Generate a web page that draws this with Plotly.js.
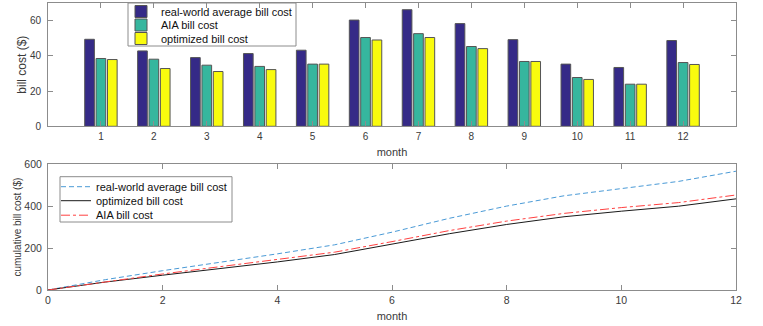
<!DOCTYPE html>
<html>
<head>
<meta charset="utf-8">
<script src="https://cdn.plot.ly/plotly-3.0.1.min.js"></script>
<style>html,body{margin:0;padding:0;background:#fff;}#chart{width:763px;height:326px;}</style>
</head>
<body>
<div id="chart"></div>
<script>
// ---- data ----
var months = [1, 2, 3, 4, 5, 6, 7, 8, 9, 10, 11, 12];
var realWorldBill = [49.4, 42.8, 39.0, 41.3, 43.2, 60.3, 66.2, 58.3, 49.2, 35.3, 33.4, 48.7];
var aiaBill       = [38.5, 38.1, 34.7, 34.0, 35.3, 50.4, 52.6, 45.3, 36.8, 27.7, 23.9, 36.2];
var optimizedBill = [37.9, 32.8, 31.1, 32.2, 35.3, 49.0, 50.4, 44.1, 36.8, 26.6, 23.9, 35.1];

var cumMonths = [0, 1, 2, 3, 4, 5, 6, 7, 8, 9, 10, 11, 12];
var cumRealWorld = [0, 49.4, 92.2, 131.2, 172.5, 215.7, 276.0, 342.2, 400.5, 449.7, 485.0, 518.4, 567.1];
var cumOptimized = [0, 37.9, 70.7, 101.8, 134.0, 169.3, 218.3, 268.7, 312.8, 349.6, 376.2, 400.1, 435.2];
var cumAIA       = [0, 38.5, 76.6, 111.3, 145.3, 180.6, 231.0, 283.6, 328.9, 365.7, 393.4, 417.3, 453.5];

var barTickLabels = ['1','2','3','4','5','6','7','8','9','10','11','12'];

// ---- styling ----
var FONT = 'Liberation Sans, Arial, Helvetica, sans-serif';
var TXT = '#3a3a3a';
var AX = '#8c8c8c';
var edge = {color: '#555555', width: 1};

var traces = [
  {type: 'bar', x: months, y: realWorldBill, name: 'real-world average bill cost',
   marker: {color: '#352a87', line: edge}, xaxis: 'x', yaxis: 'y', legend: 'legend'},
  {type: 'bar', x: months, y: aiaBill, name: 'AIA bill cost',
   marker: {color: '#36b69e', line: edge}, xaxis: 'x', yaxis: 'y', legend: 'legend2'},
  {type: 'bar', x: months, y: optimizedBill, name: 'optimized bill cost',
   marker: {color: '#f9fb0e', line: edge}, xaxis: 'x', yaxis: 'y', legend: 'legend3'},
  {type: 'scatter', mode: 'lines', x: cumMonths, y: cumRealWorld, name: 'real-world average bill cost',
   line: {color: '#4a9ad6', width: 1, dash: '5px,3px'}, xaxis: 'x2', yaxis: 'y2', legend: 'legend4'},
  {type: 'scatter', mode: 'lines', x: cumMonths, y: cumOptimized, name: 'optimized bill cost',
   line: {color: '#1a1a1a', width: 1}, xaxis: 'x2', yaxis: 'y2', legend: 'legend5'},
  {type: 'scatter', mode: 'lines', x: cumMonths, y: cumAIA, name: 'AIA bill cost',
   line: {color: '#ff4040', width: 1, dash: 'dashdot'}, xaxis: 'x2', yaxis: 'y2', legend: 'legend6'}
];

function axisBase(fs) {
  return {
    showline: true, linecolor: AX, linewidth: 1, mirror: 'ticks',
    ticks: 'inside', ticklen: 5, tickcolor: AX, tickwidth: 1,
    showgrid: false, zeroline: false, automargin: false,
    tickfont: {family: FONT, size: fs, color: TXT}
  };
}

// plot area: left 48, right 736, top 3, bottom 290 (height 287)
var H = 287, PB = 290;
function py(p) { return (PB - p) / H; }
function px(p) { return (p - 48) / 688; }

function legendAt(pxX, pxY) {
  return {
    x: px(pxX), y: py(pxY), xanchor: 'left', yanchor: 'middle',
    xref: 'paper', yref: 'paper',
    bgcolor: 'rgba(0,0,0,0)', borderwidth: 0,
    font: {family: FONT, size: 11, color: '#111111'},
    itemwidth: 30, itemclick: false, itemdoubleclick: false
  };
}

var layout = {
  width: 763, height: 326,
  margin: {l: 48, r: 27, t: 3, b: 36, autoexpand: false},
  paper_bgcolor: '#ffffff', plot_bgcolor: '#ffffff',
  showlegend: true,
  barmode: 'group', bargap: 0.355, bargroupgap: 0.15,
  font: {family: FONT, size: 11, color: TXT},
  xaxis: Object.assign(axisBase(10), {
    domain: [0, 1], anchor: 'y', range: [0, 13], ticklabelstandoff: 1,
    tickmode: 'array', tickvals: months, ticktext: barTickLabels,
    title: {text: 'month', font: {family: FONT, size: 11, color: TXT}, standoff: 7}
  }),
  yaxis: Object.assign(axisBase(10), {
    domain: [py(126.3), 1], anchor: 'x', range: [0, 70], tickvals: [0, 20, 40, 60],
    ticklabelstandoff: 4,
    title: {text: 'bill cost ($)', font: {family: FONT, size: 12, color: TXT}, standoff: 0}
  }),
  xaxis2: Object.assign(axisBase(10.5), {
    domain: [0, 1], anchor: 'y2', range: [0, 12], tickvals: [0, 2, 4, 6, 8, 10, 12],
    title: {text: 'month', font: {family: FONT, size: 11, color: TXT}, standoff: 7}
  }),
  yaxis2: Object.assign(axisBase(10.5), {
    domain: [0, py(164.3)], anchor: 'x2', range: [0, 600], tickvals: [0, 200, 400, 600],
    ticklabelstandoff: 3,
    title: {text: 'cumulative bill cost ($)', font: {family: FONT, size: 10, color: TXT}, standoff: 0}
  }),
  legend:  legendAt(121, 11.5),
  legend2: legendAt(121, 25),
  legend3: legendAt(121, 38.5),
  legend4: legendAt(56, 186.7),
  legend5: legendAt(56, 200.7),
  legend6: legendAt(56, 215.2),
  shapes: [
    {type: 'rect', xref: 'paper', yref: 'paper', layer: 'below',
     x0: px(128), x1: px(296), y0: py(46), y1: py(3),
     line: {color: '#8c8c8c', width: 1}, fillcolor: '#ffffff'},
    {type: 'rect', xref: 'paper', yref: 'paper', layer: 'below',
     x0: px(60), x1: px(232), y0: py(222), y1: py(176.7),
     line: {color: '#8c8c8c', width: 1}, fillcolor: '#ffffff'}
  ]
};

Plotly.newPlot('chart', traces, layout, {displayModeBar: false, staticPlot: true});
</script>
</body>
</html>
